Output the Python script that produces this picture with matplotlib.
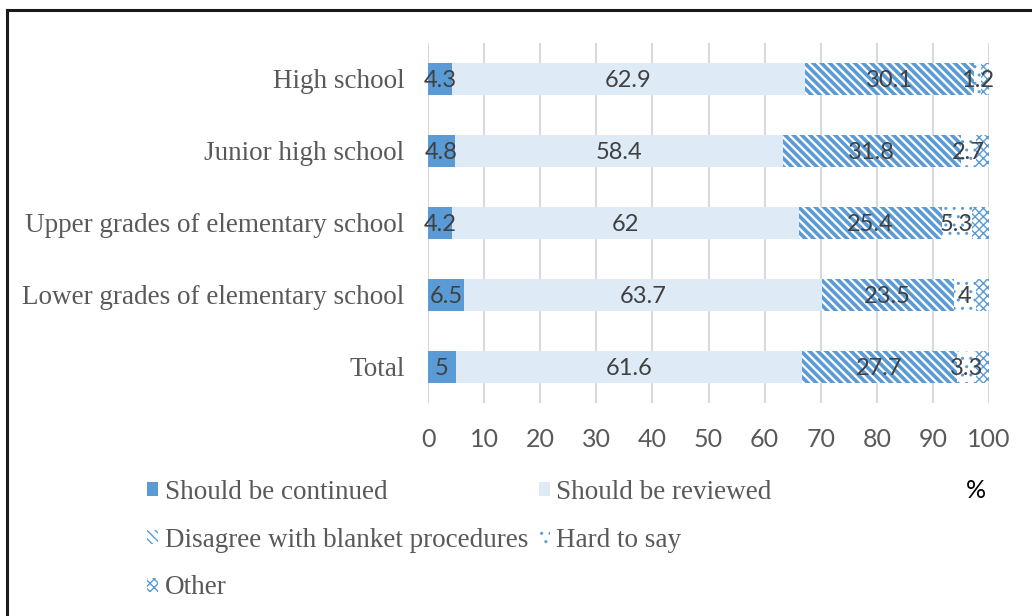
import matplotlib
matplotlib.use("Agg")
import matplotlib.pyplot as plt
from matplotlib.lines import Line2D
import numpy as np

# Survey results (percent), bottom to top
categories = ["Total", "Lower grades of elementary school",
              "Upper grades of elementary school", "Junior high school",
              "High school"]
continued = [5, 6.5, 4.2, 4.8, 4.3]
reviewed = [61.6, 63.7, 62, 58.4, 62.9]
disagree = [27.7, 23.5, 25.4, 31.8, 30.1]
hard_to_say = [3.3, 4, 5.3, 2.7, 1.2]
other = [2.4, 2.3, 3.1, 2.3, 1.5]

series_names = ["Should be continued", "Should be reviewed",
                "Disagree with blanket procedures", "Hard to say", "Other"]
xticks = [0, 10, 20, 30, 40, 50, 60, 70, 80, 90, 100]

BLUE = "#5b9bd5"
PALE = "#deebf7"
TEXT = "#595959"
LABEL = "#404040"
SERIF = ["Liberation Serif", "DejaVu Serif"]
SANS = ["Lato", "DejaVu Sans"]

fig = plt.figure(figsize=(10.32, 6.16), dpi=100)
ax = fig.add_axes([428 / 1032, 1 - 403 / 616, 561 / 1032, 360 / 616])

y = np.arange(len(categories))
h = 0.45
left = np.zeros(len(categories))

styles = [
    dict(color=BLUE, lw=0),
    dict(color=PALE, lw=0),
    dict(facecolor="white", edgecolor=BLUE, hatch="\\\\\\\\", lw=0, hlw=2.6),
    dict(facecolor="white", edgecolor=BLUE, hatch="..", lw=0, hlw=1.0),
    dict(facecolor="white", edgecolor=BLUE, hatch="xxxx", lw=0, hlw=1.0),
]
data = [continued, reviewed, disagree, hard_to_say, other]
handles = []
for vals, st, name in zip(data, styles, series_names):
    st = dict(st)
    hlw = st.pop("hlw", 1.0)
    with plt.rc_context({"hatch.linewidth": hlw}):
        bars = ax.barh(y, vals, left=left, height=h, label=name, zorder=2, **st)
        for b in bars:
            if hasattr(b, "set_hatch_linewidth"):
                b.set_hatch_linewidth(hlw)
    handles.append(bars)
    for yi, l, v in zip(y, left, vals):
        if name == "Other":
            continue
        ax.text(l + v / 2, yi - 0.02, f"{v:g}", ha="center", va="center",
                fontsize=17, color=LABEL, family=SANS, zorder=3)
    left = left + np.array(vals)

ax.set_xlim(0, 100)
ax.set_ylim(-0.5, len(categories) - 0.5)
ax.set_xticks(xticks)
ax.set_xticklabels([str(t) for t in xticks], family=SANS, fontsize=18, color=TEXT)
ax.set_yticks(y)
ax.set_yticklabels(categories, family=SERIF, fontsize=19.5, color=TEXT)
ax.tick_params(axis="x", length=0, pad=18)
ax.tick_params(axis="y", length=0, pad=17)
ax.grid(axis="x", color="#d9d9d9", lw=1.5, zorder=0)
ax.set_axisbelow(True)
for s in ax.spines.values():
    s.set_visible(False)

order = [0, 2, 4, 1, 3]
with plt.rc_context({"hatch.linewidth": 1.0}):
    leg = fig.legend([handles[i] for i in order], [series_names[i] for i in order],
                     ncol=2, loc="upper left", bbox_to_anchor=(147 / 1032, 1 - 480 / 616),
                     frameon=False, prop={"family": SERIF, "size": 19.5},
                     handlelength=0.4, handleheight=0.4, handletextpad=0.25,
                     labelspacing=0.84, columnspacing=0.4, borderpad=0, borderaxespad=0)
for t in leg.get_texts():
    t.set_color(TEXT)

fig.text(976 / 1032, 1 - 491 / 616, "%", ha="center", va="center",
         fontsize=18, color="black", family=SANS)

# Outer frame (top and left edges)
fig.add_artist(Line2D([7 / 1032, 1], [1 - 10 / 616, 1 - 10 / 616],
                      transform=fig.transFigure, color="#1a1a1a", lw=2.2))
fig.add_artist(Line2D([7 / 1032, 7 / 1032], [0, 1 - 10 / 616],
                      transform=fig.transFigure, color="#1a1a1a", lw=2.2))

fig.savefig("out.png", dpi=100, facecolor="white")
